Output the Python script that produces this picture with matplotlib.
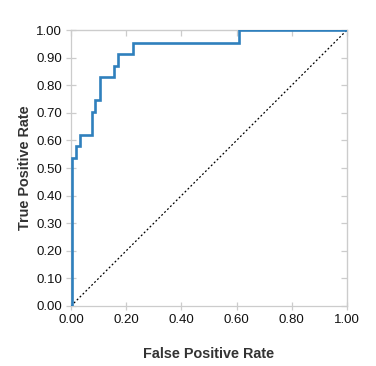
import matplotlib
matplotlib.use("Agg")
import matplotlib.pyplot as plt

# ROC corner points, drawn as a post-step curve
roc_fpr = [0.0, 0.004, 0.018, 0.034, 0.075, 0.087, 0.104, 0.156, 0.170, 0.225, 0.609, 1.0]
roc_tpr = [0.0, 0.538, 0.578, 0.621, 0.704, 0.745, 0.829, 0.871, 0.913, 0.954, 1.0, 1.0]
chance = [0.0, 1.0]
ticks = [0.0, 0.1, 0.2, 0.3, 0.4, 0.5, 0.6, 0.7, 0.8, 0.9, 1.0]
x_ticks = [0.0, 0.2, 0.4, 0.6, 0.8, 1.0]

GRID = "#cccccc"
LABEL = "#333333"

plt.rcParams["font.family"] = ["Liberation Sans", "DejaVu Sans"]

fig = plt.figure(figsize=(3.76, 3.66), dpi=100)
ax = fig.add_axes([71 / 376, 1 - 306 / 366, 276 / 376, 276 / 366])

ax.plot(chance, chance, color="black", lw=0.9, dashes=(1.5, 1.8))
ax.plot(roc_fpr, roc_tpr, drawstyle="steps-post", color="#2f80bd", lw=1.9,
        solid_joinstyle="miter", zorder=3)

ax.set_xlim(0, 1)
ax.set_ylim(0, 1)
ax.set_xticks(x_ticks)
ax.set_xticklabels([f"{t:.2f}" for t in x_ticks])
ax.set_yticks(ticks)
ax.set_yticklabels([f"{t:.2f}" for t in ticks])

for s in ax.spines.values():
    s.set_color(GRID)
    s.set_linewidth(0.9)

ax.tick_params(axis="y", direction="inout", length=7, width=0.9, color=GRID,
               labelsize=9.5, pad=3, labelcolor="#111111")
ax.tick_params(axis="x", direction="inout", length=5.5, width=0.9, color=GRID,
               labelsize=9.5, pad=3, labelcolor="#111111")

# mirrored inward ticks on top and right
top = ax.secondary_xaxis("top")
top.set_xticks(x_ticks)
top.tick_params(direction="in", length=4, width=0.9, color=GRID, labeltop=False)
top.spines["top"].set_color(GRID)
right = ax.secondary_yaxis("right")
right.set_yticks(ticks)
right.tick_params(direction="in", length=4, width=0.9, color=GRID, labelright=False)
right.spines["right"].set_color(GRID)

ax.set_xlabel("False Positive Rate", fontsize=10.4, fontweight="bold",
              color=LABEL, labelpad=15)
ax.set_ylabel("True Positive Rate", fontsize=10.4, fontweight="bold",
              color=LABEL, labelpad=3)

fig.savefig("out.png", dpi=100)
